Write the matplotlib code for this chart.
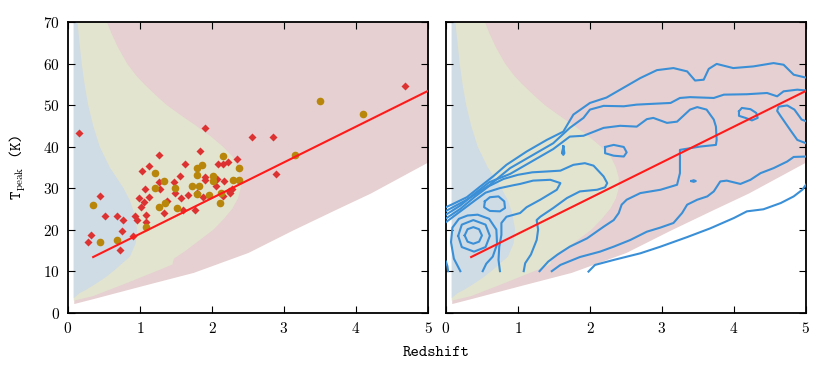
import numpy as np
import matplotlib
matplotlib.use("Agg")
import matplotlib.pyplot as plt

# observed sources: redshift and peak temperature
diamond_z = [0.16, 0.28, 0.32, 0.44, 0.52, 0.68, 0.76, 0.75, 0.72, 0.90, 0.93, 0.96, 0.98,
             1.01, 1.03, 1.06, 1.07, 1.08, 1.08, 1.13, 1.13, 1.27, 1.26, 1.28, 1.34, 1.38,
             1.47, 1.49, 1.55, 1.57, 1.60, 1.63, 1.67, 1.76, 1.79, 1.83, 1.87, 1.90, 1.91,
             1.91, 2.07, 2.06, 2.09, 2.16, 2.17, 2.22, 2.16, 2.24, 2.25, 2.28, 2.35, 2.56,
             2.85, 2.89, 4.68]
diamond_t = [43.3, 17.0, 18.6, 28.1, 23.4, 23.3, 22.3, 19.7, 15.2, 18.4, 23.2, 22.3, 27.6,
             25.5, 34.1, 26.7, 29.7, 23.6, 21.9, 35.3, 27.8, 37.9, 31.4, 29.8, 24.0, 26.9,
             31.4, 28.9, 32.9, 27.7, 24.8, 35.8, 28.3, 24.8, 28.8, 38.9, 27.9, 44.5, 32.6,
             31.9, 32.3, 30.4, 35.9, 35.8, 31.6, 36.3, 28.2, 29.2, 28.8, 29.8, 37.0, 42.4,
             42.4, 33.4, 54.6]

circle_z = [0.35, 0.44, 0.68, 1.09, 1.21, 1.21, 1.26, 1.33, 1.35, 1.48, 1.52, 1.72, 1.79,
            1.79, 1.79, 1.82, 1.86, 1.96, 2.02, 2.02, 2.11, 2.13, 2.15, 2.29, 2.37, 2.37,
            3.15, 3.50, 4.10]
circle_t = [26.0, 17.0, 17.5, 20.7, 33.6, 30.0, 25.5, 31.8, 26.5, 30.0, 25.2, 30.6, 28.5,
            34.8, 33.1, 30.6, 35.5, 28.3, 32.8, 31.8, 26.4, 28.9, 37.8, 32.0, 34.8, 32.0,
            37.9, 50.9, 47.9]

# best-fit relation end points
fit_z = [0.35, 5.0]
fit_t = [13.4, 53.4]

# selection regions
floor_z = [0.08, 0.35, 1.05, 1.74, 2.5, 3.12, 3.71, 4.2, 5.0]
floor_t = [2.2, 3.4, 6.6, 9.7, 14.5, 19.9, 24.8, 28.8, 36.3]

mid_floor_z = [0.08, 0.35, 0.81, 1.27, 1.45]
mid_floor_t = [2.9, 4.0, 7.1, 10.3, 11.6]
mid_edge_t = [70, 67, 64, 60, 57, 55, 52.5, 50, 47.5, 45, 42.5, 40, 37.5, 35, 32.5, 30,
              27.5, 25, 22.5, 20, 17.5, 15, 13]
mid_edge_z = [0.54, 0.61, 0.69, 0.82, 0.95, 1.06, 1.21, 1.37, 1.57, 1.78, 1.98, 2.15, 2.29,
              2.36, 2.40, 2.40, 2.36, 2.28, 2.16, 2.02, 1.83, 1.64, 1.47]

low_edge_t = [70, 65, 60, 55, 50, 45, 40, 35, 30, 27, 24, 20, 16.7, 13.5, 10.3, 8.5, 7,
              5.5, 4.7, 3.5]
low_edge_z = [0.13, 0.16, 0.19, 0.23, 0.28, 0.35, 0.44, 0.58, 0.77, 0.86, 0.92, 0.96, 0.94,
              0.86, 0.65, 0.52, 0.39, 0.25, 0.16, 0.08]

# simulated population, traced density contours (z, T)
c1_upper_z = [0.0, 0.10, 0.29, 0.47, 0.66, 0.84, 1.12, 1.40, 1.63, 1.77, 2.00, 2.23, 2.42,
              2.70, 2.93, 3.16, 3.35, 3.46, 3.58, 3.65, 3.76, 3.99, 4.27, 4.55, 4.69, 4.83,
              5.0]
c1_upper_t = [25.4, 26.2, 27.8, 30.3, 32.9, 35.6, 38.8, 41.6, 43.6, 47.7, 50.5, 51.8, 53.7,
              56.5, 58.4, 58.9, 58.1, 55.9, 56.1, 58.7, 59.9, 58.9, 59.3, 60.1, 59.7, 57.3,
              56.6]
c1_lower_z = [1.98, 2.07, 2.33, 2.70, 2.98, 3.35, 3.67, 4.0, 4.18, 4.41, 4.65, 4.83, 4.95, 5.0]
c1_lower_t = [9.9, 11.5, 12.7, 14.3, 15.9, 18.2, 20.3, 22.8, 24.4, 24.9, 26.4, 28.0, 29.6, 30.8]

c2_upper_z = [0.0, 0.29, 0.61, 0.89, 1.21, 1.49, 1.72, 1.91, 2.0, 2.19, 2.47, 2.65, 2.88,
              3.12, 3.25, 3.39, 3.72, 3.86, 4.18, 4.46, 4.60, 4.69, 4.88, 5.0]
c2_upper_t = [24.5, 27.2, 30.8, 34.8, 38.0, 40.8, 44.5, 46.9, 48.9, 49.8, 49.7, 50.1, 50.3,
              50.5, 51.7, 51.9, 51.7, 52.5, 52.6, 52.9, 52.1, 53.3, 53.7, 53.5]
c2_lower_z = [1.47, 1.59, 1.86, 2.14, 2.33, 2.56, 2.79, 2.98, 3.16, 3.28, 3.35, 3.49, 3.63,
              3.72, 3.81, 3.90, 4.09, 4.23, 4.37, 4.55, 4.74, 4.83, 5.0]
c2_lower_t = [10.0, 11.5, 13.4, 14.7, 15.9, 17.5, 19.5, 20.5, 21.6, 24.0, 26.0, 27.2, 28.0,
              29.2, 31.6, 31.8, 31.0, 32.0, 33.6, 34.8, 36.4, 37.5, 37.6]

c3_z = [0.0, 0.2, 0.4, 0.6, 0.89, 1.21, 1.49, 1.72, 1.91, 2.19, 2.42, 2.65, 2.79, 2.88, 3.07,
        3.21, 3.39, 3.49, 3.62, 3.72, 3.75, 3.76, 3.75, 3.53, 3.25, 3.25, 3.25, 3.21, 2.98,
        2.70, 2.51, 2.44, 2.40, 2.33, 2.19, 1.96, 1.72, 1.55, 1.42, 1.30]
c3_t = [23.6, 25.8, 28.7, 31.4, 33.4, 36.6, 39.4, 42.4, 42.6, 44.5, 45.0, 44.8, 46.6, 46.9,
        45.7, 46.0, 48.9, 49.5, 48.9, 46.5, 44.8, 41.6, 40.4, 40.0, 39.2, 36.8, 33.6, 30.8,
        29.6, 28.8, 27.2, 26.0, 24.0, 22.3, 20.7, 17.9, 15.9, 14.0, 12.3, 10.0]

cmid_z = [0.0, 0.2, 0.4, 0.6, 0.8, 1.0, 1.2, 1.4, 1.59, 1.77, 1.93, 2.05, 2.19, 2.24, 2.21,
          2.10, 1.86, 1.68, 1.49, 1.31, 1.26, 1.28, 1.26, 1.18, 1.10, 1.08]
cmid_t = [22.7, 25.0, 27.9, 30.5, 32.2, 33.2, 33.8, 34.0, 34.2, 35.6, 36.0, 35.4, 32.8, 31.2,
          30.2, 29.6, 29.2, 27.6, 25.2, 23.1, 22.3, 20.0, 17.5, 14.0, 11.9, 10.0]

c4_z = [0.0, 0.2, 0.4, 0.55, 0.75, 0.94, 1.03, 1.21, 1.45, 1.59, 1.54, 1.31, 1.12, 1.03,
        0.84, 0.77, 0.77, 0.74, 0.73, 0.75]
c4_t = [21.8, 24.4, 27.0, 28.9, 30.0, 30.7, 31.0, 31.8, 32.0, 31.2, 29.6, 27.2, 25.4, 24.0,
        23.1, 21.6, 18.7, 15.9, 12.7, 10.0]

c5_z = [0.54, 0.61, 0.73, 0.81, 0.82, 0.75, 0.61, 0.53, 0.54]
c5_t = [26.8, 27.8, 28.0, 26.8, 25.2, 24.4, 24.5, 25.4, 26.8]

c6_z = [2.21, 2.33, 2.47, 2.51, 2.47, 2.33, 2.21, 2.21]
c6_t = [39.9, 40.4, 39.9, 38.6, 37.6, 37.8, 38.4, 39.9]

c7_z = [0.20, 0.11, 0.07, 0.09, 0.18, 0.30, 0.44, 0.60, 0.70, 0.71, 0.65, 0.56, 0.51]
c7_t = [10.0, 13.0, 17.0, 20.5, 22.6, 23.4, 23.6, 22.6, 20.0, 16.5, 13.5, 11.8, 10.0]

c8_z = [0.17, 0.22, 0.38, 0.55, 0.61, 0.55, 0.39, 0.22, 0.17]
c8_t = [18.5, 21.2, 22.3, 21.2, 18.5, 15.8, 14.7, 15.8, 18.5]

c9_z = [0.26, 0.30, 0.38, 0.46, 0.50, 0.46, 0.38, 0.30, 0.26]
c9_t = [18.6, 20.1, 20.6, 20.1, 18.6, 17.1, 16.6, 17.1, 18.6]

c10_z = [5.0, 4.94, 4.84, 4.74, 4.62, 4.60, 4.65, 4.79, 4.88, 5.0]
c10_t = [46.1, 46.5, 48.9, 49.9, 49.6, 48.6, 47.3, 43.8, 41.6, 40.8]

c11_z = [4.07, 4.11, 4.23, 4.31, 4.33, 4.25, 4.16, 4.07, 4.07]
c11_t = [48.5, 49.3, 49.0, 48.1, 46.9, 46.3, 46.9, 47.4, 48.5]

c12_z = [3.41, 3.44, 3.47, 3.44, 3.41]
c12_t = [31.7, 31.9, 31.7, 31.5, 31.7]

c13_z = [1.62, 1.63, 1.645, 1.63, 1.615, 1.63]
c13_t = [38.4, 40.1, 38.4, 38.0, 38.4, 40.1]

c14_z = [0.0, 0.02, 0.03]
c14_t = [12.3, 11.2, 10.0]

contours = [(c1_upper_z, c1_upper_t), (c1_lower_z, c1_lower_t),
            (c2_upper_z, c2_upper_t), (c2_lower_z, c2_lower_t),
            (c3_z, c3_t), (cmid_z, cmid_t), (c4_z, c4_t), (c5_z, c5_t),
            (c6_z, c6_t), (c7_z, c7_t), (c8_z, c8_t), (c9_z, c9_t),
            (c10_z, c10_t), (c11_z, c11_t), (c12_z, c12_t),
            (c13_z, c13_t), (c14_z, c14_t)]

BLUE_BG = "#cfdbe5"
GREEN_BG = "#e2e4cf"
PINK_BG = "#e6d0d1"

plt.rcParams["font.family"] = "cmr10"
plt.rcParams["axes.formatter.use_mathtext"] = True
plt.rcParams["mathtext.fontset"] = "cm"

fig = plt.figure(figsize=(8.3, 3.73), dpi=100)
ax1 = fig.add_axes([0.0819, 0.1617, 0.4337, 0.7794])
ax2 = fig.add_axes([0.5373, 0.1617, 0.4337, 0.7794])


def draw_regions(ax):
    ax.fill_between(floor_z, floor_t, 70, color=PINK_BG, lw=0, zorder=0)
    mid_z = [0.08] + mid_edge_z + mid_floor_z[::-1]
    mid_t = [70] + mid_edge_t + mid_floor_t[::-1]
    ax.fill(mid_z, mid_t, color=GREEN_BG, lw=0, zorder=0.5)
    low_z = [0.08] + low_edge_z
    low_t = [70] + low_edge_t
    ax.fill(low_z, low_t, color=BLUE_BG, lw=0, zorder=0.6)


for ax in (ax1, ax2):
    draw_regions(ax)
    ax.set_xlim(0, 5)
    ax.set_ylim(0, 70)
    ax.set_xticks([0, 1, 2, 3, 4, 5])
    ax.set_yticks(range(0, 71, 10))
    ax.tick_params(direction="in", top=True, right=True, length=5, width=0.8,
                   labelsize=11, pad=6)
    for sp in ax.spines.values():
        sp.set_linewidth(1.3)

ax1.plot(diamond_z, diamond_t, "D", color="#dc3232", ms=3.8, mec="none", zorder=3)
ax1.plot(circle_z, circle_t, "o", color="#b8860b", ms=5.5, mec="none", zorder=3)
ax1.plot(fit_z, fit_t, color="#ff1a1a", lw=1.5, zorder=4)

for cz, ct in contours:
    ax2.plot(cz, ct, color="#3a8fd6", lw=1.5, zorder=3)
ax2.plot(fit_z, fit_t, color="#ff1a1a", lw=1.5, zorder=4)
ax2.set_yticklabels([])

ax1.set_ylabel(r"T$_{\rm peak}$ (K)", family="cmtt10", fontsize=11.5, labelpad=11)
fig.text(0.526, 0.045, "Redshift", family="cmtt10", fontsize=11.5, ha="center")

fig.savefig("out.png", dpi=100)
